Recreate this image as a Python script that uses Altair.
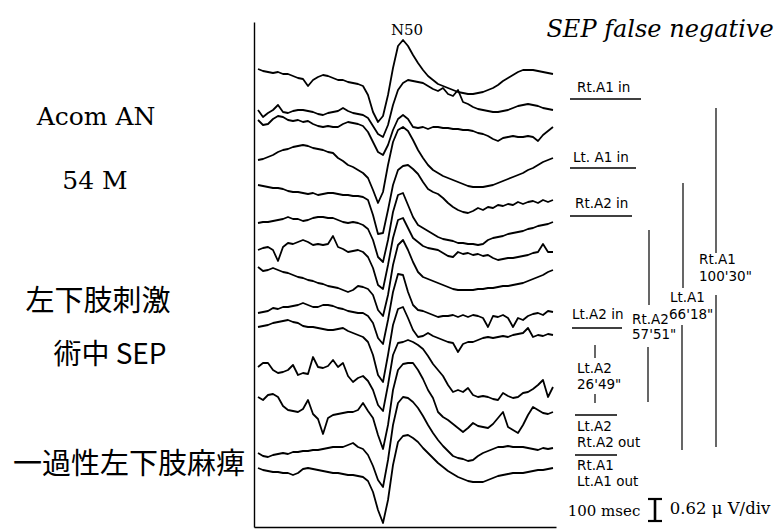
import altair as alt
import pandas as pd

# ---- data -----------------------------------------------------------------
# sampling times (ms from sweep start) and vertical display position of each trace
TIME_MS = [0, 5, 10, 15, 20, 25, 30, 35, 40, 45, 50, 55, 60, 65, 70, 75, 80, 85, 90, 95,
           100, 105, 110, 115, 120, 125, 130, 135, 140, 145, 150, 155, 160, 165, 170, 175,
           180, 185, 190, 195, 200, 205, 210, 215, 220, 225, 230, 235, 240, 245, 250, 255,
           260, 265, 270, 275, 280, 285, 290, 295]

TRACE_1 = [69, 71, 72, 73, 72, 74, 74, 76, 78, 79, 86, 80, 77, 75, 76, 78, 80, 80, 82, 83,
           84, 86, 95, 112, 122, 116, 95, 68, 46, 40, 46, 55, 63, 70, 76, 80, 84, 86, 88, 90,
           92, 93, 94, 94, 93, 92, 90, 88, 85, 81, 78, 75, 72, 70, 70, 70, 71, 72, 73, 74]
TRACE_2 = [110, 117, 113, 110, 105, 112, 113, 111, 110, 110, 111, 112, 114, 115, 113, 112, 111, 108, 111, 113,
           114, 115, 118, 126, 134, 137, 125, 105, 90, 83, 80, 81, 82, 83, 86, 89, 91, 88, 94, 96,
           90, 102, 104, 107, 109, 110, 111, 112, 112, 111, 110, 108, 106, 105, 104, 105, 106, 108, 109, 110]
TRACE_3 = [120, 125, 124, 119, 116, 117, 120, 121, 120, 122, 121, 124, 126, 127, 126, 127, 127, 124, 122, 123,
           124, 126, 132, 142, 152, 155, 145, 130, 119, 115, 119, 127, 128, 127, 129, 127, 127, 128, 128, 129,
           129, 130, 130, 131, 133, 134, 136, 139, 141, 138, 137, 136, 137, 137, 136, 137, 141, 135, 131, 127]
TRACE_4 = [160, 159, 157, 155, 152, 150, 149, 147, 146, 145, 146, 148, 149, 150, 152, 153, 158, 161, 165, 167,
           170, 173, 178, 190, 203, 192, 165, 142, 130, 127, 131, 140, 150, 158, 165, 170, 173, 176, 178, 180,
           182, 184, 186, 187, 187, 187, 186, 185, 183, 181, 179, 177, 175, 173, 170, 168, 165, 162, 160, 158]
TRACE_5 = [185, 186, 187, 188, 188, 189, 191, 192, 192, 193, 194, 193, 195, 194, 193, 193, 194, 195, 195, 196,
           196, 197, 200, 215, 234, 233, 210, 185, 170, 166, 165, 169, 174, 182, 189, 192, 194, 198, 203, 207,
           210, 212, 213, 211, 208, 210, 207, 208, 205, 206, 204, 205, 202, 204, 202, 201, 203, 200, 202, 200]
TRACE_6 = [223, 222, 222, 221, 220, 219, 217, 219, 219, 221, 220, 218, 217, 217, 218, 218, 220, 222, 223, 222,
           223, 225, 229, 240, 257, 262, 240, 212, 195, 193, 205, 217, 225, 228, 231, 234, 237, 239, 240, 241,
           243, 243, 244, 244, 245, 244, 240, 238, 237, 236, 234, 233, 232, 231, 229, 228, 226, 225, 224, 222]
TRACE_7 = [250, 248, 247, 250, 261, 247, 243, 244, 242, 240, 242, 245, 244, 245, 244, 236, 247, 249, 252, 251,
           250, 252, 257, 268, 285, 289, 265, 238, 220, 218, 228, 238, 242, 246, 248, 249, 250, 253, 256, 257,
           252, 254, 253, 255, 254, 256, 255, 258, 260, 259, 258, 258, 257, 256, 255, 253, 252, 244, 252, 252]
TRACE_8 = [267, 271, 270, 268, 270, 272, 273, 275, 277, 278, 280, 281, 283, 284, 286, 287, 288, 290, 292, 290,
           286, 287, 289, 295, 310, 316, 295, 265, 245, 240, 250, 262, 272, 277, 279, 281, 283, 285, 287, 289,
           290, 290, 290, 290, 289, 289, 288, 288, 287, 286, 286, 285, 284, 283, 281, 279, 277, 275, 272, 270]
TRACE_9 = [313, 312, 311, 308, 309, 307, 307, 306, 305, 303, 305, 307, 307, 305, 305, 306, 308, 309, 311, 312,
           313, 313, 316, 323, 338, 344, 320, 292, 274, 275, 292, 305, 310, 311, 313, 315, 317, 316, 316, 315,
           317, 315, 317, 315, 316, 318, 327, 316, 317, 315, 318, 327, 318, 320, 316, 314, 313, 315, 311, 312]
TRACE_10 = [327, 326, 325, 323, 322, 321, 320, 322, 323, 326, 327, 327, 328, 329, 330, 330, 329, 328, 331, 333,
            335, 337, 342, 355, 375, 382, 355, 325, 309, 307, 318, 330, 337, 336, 333, 336, 338, 340, 342, 343,
            352, 344, 342, 342, 340, 338, 337, 338, 337, 336, 337, 335, 334, 333, 328, 337, 335, 336, 334, 335]
TRACE_11 = [367, 363, 363, 370, 373, 372, 370, 365, 375, 373, 374, 357, 367, 368, 366, 360, 367, 363, 376, 382,
            378, 376, 381, 390, 405, 411, 385, 355, 343, 342, 340, 342, 345, 349, 356, 364, 370, 376, 385, 392,
            390, 392, 388, 395, 397, 396, 397, 399, 400, 393, 396, 398, 397, 393, 392, 389, 385, 380, 397, 387]
TRACE_12 = [397, 400, 395, 394, 397, 406, 410, 411, 412, 409, 400, 414, 419, 434, 418, 415, 414, 413, 412, 412,
            410, 403, 411, 418, 435, 449, 425, 390, 370, 364, 363, 363, 370, 379, 390, 398, 412, 417, 420, 424,
            428, 432, 428, 423, 426, 427, 428, 424, 418, 412, 427, 430, 433, 425, 415, 407, 410, 413, 414, 412]
TRACE_13 = [453, 456, 457, 455, 454, 453, 454, 452, 452, 451, 451, 450, 450, 449, 448, 447, 447, 447, 445, 443,
            447, 449, 455, 466, 480, 487, 460, 425, 403, 397, 398, 402, 408, 416, 425, 433, 440, 446, 451, 456,
            458, 459, 461, 460, 456, 453, 451, 449, 447, 447, 446, 447, 447, 447, 448, 449, 450, 448, 449, 448]
TRACE_14 = [468, 470, 471, 472, 472, 473, 473, 475, 473, 469, 468, 469, 470, 471, 472, 473, 473, 474, 475, 475,
            476, 477, 481, 492, 510, 523, 500, 465, 442, 436, 435, 438, 442, 448, 453, 458, 463, 467, 471, 474,
            477, 479, 481, 482, 482, 482, 480, 478, 476, 475, 474, 473, 473, 473, 472, 471, 470, 470, 469, 468]

TRACES = [TRACE_1, TRACE_2, TRACE_3, TRACE_4, TRACE_5, TRACE_6, TRACE_7,
          TRACE_8, TRACE_9, TRACE_10, TRACE_11, TRACE_12, TRACE_13, TRACE_14]

LEFT_TEXT = ["Acom AN", "54 M", "左下肢刺激", "術中 SEP", "一過性左下肢麻痺"]
TITLE = "SEP false negative"
PEAK_LABEL = "N50"

rows = []
for i, vals in enumerate(TRACES, start=1):
    for t, v in zip(TIME_MS, vals):
        rows.append({"t": t, "v": v, "trace": i})
df = pd.DataFrame(rows)

# ---- layout ----------------------------------------------------------------
X0, Y0 = 254, 22          # plot-area origin on the page
W, H = 302, 505
one = alt.Data(values=[{}])

xs = alt.Scale(domain=[-4, 298])
ys = alt.Scale(domain=[22, 527], reverse=True)
noaxis = dict(ticks=False, labels=False, grid=False, title=None,
              domainColor="black", domainWidth=1.4)

traces = alt.Chart(df).mark_line(color="black", strokeWidth=1.8, strokeJoin="round").encode(
    x=alt.X("t:Q", scale=xs, axis=alt.Axis(**noaxis)),
    y=alt.Y("v:Q", scale=ys, axis=alt.Axis(**noaxis)),
    detail="trace:N",
)

SERIF = "DejaVu Serif"
SANS = "DejaVu Sans"
CJK = "Noto Sans CJK JP"


def txt(s, px, py, size, font, align="center", italic=False, weight="normal"):
    return alt.Chart(one).mark_text(
        text=s, fontSize=size, font=font, align=align, baseline="middle",
        fontStyle="italic" if italic else "normal", fontWeight=weight, color="black",
    ).encode(x=alt.value(px - X0), y=alt.value(py - Y0))


def vline(px, py1, py2, w=1.2):
    return alt.Chart(one).mark_rule(color="black", strokeWidth=w).encode(
        x=alt.value(px - X0), y=alt.value(py1 - Y0), y2=alt.value(py2 - Y0))


def hline(px1, px2, py, w=1.6):
    return alt.Chart(one).mark_rule(color="black", strokeWidth=w).encode(
        x=alt.value(px1 - X0), x2=alt.value(px2 - X0), y=alt.value(py - Y0))


layers = [traces]
# title and peak label
layers.append(txt(TITLE, 660, 30, 24, SERIF, italic=True))
layers.append(txt(PEAK_LABEL, 407, 30, 15, SERIF))
# left-hand annotation
layers.append(txt(LEFT_TEXT[0], 96, 117, 25, SERIF))
layers.append(txt(LEFT_TEXT[1], 95, 181, 25, SERIF))
layers.append(txt(LEFT_TEXT[2], 98, 302, 29, CJK))
layers.append(txt(LEFT_TEXT[3], 110, 356, 28, CJK))
layers.append(txt(LEFT_TEXT[4], 129, 465, 29, CJK))

# right-hand clamp annotations
R = 13.5
layers += [
    txt("Rt.A1 in", 577, 88, R, SANS, align="left"), hline(570, 641, 99),
    txt("Lt. A1 in", 573, 158, R, SANS, align="left"), hline(570, 636, 168),
    txt("Rt.A2 in", 575, 204, R, SANS, align="left"), hline(570, 632, 216),
    txt("Lt.A2 in", 572, 315, R, SANS, align="left"), hline(572, 622, 328),
    vline(716, 108, 253), vline(716, 295, 447),
    txt("Rt.A1", 699, 260, R, SANS, align="left"),
    txt("100'30\"", 699, 277, R, SANS, align="left"),
    vline(683, 183, 288), vline(682, 325, 450),
    txt("Lt.A1", 670, 298, R, SANS, align="left"),
    txt("66'18\"", 669, 315, R, SANS, align="left"),
    vline(649, 230, 305), vline(648, 347, 402),
    txt("Rt.A2", 632, 320, R, SANS, align="left"),
    txt("57'51\"", 632, 335, R, SANS, align="left"),
    vline(595, 345, 358), vline(595, 394, 403),
    txt("Lt.A2", 577, 369, R, SANS, align="left"),
    txt("26'49\"", 577, 385, R, SANS, align="left"),
    hline(575, 617, 415, 1.3),
    txt("Lt.A2", 577, 427, R, SANS, align="left"),
    txt("Rt.A2 out", 577, 443, R, SANS, align="left"),
    hline(575, 617, 455, 1.3),
    txt("Rt.A1", 577, 466, R, SANS, align="left"),
    txt("Lt.A1 out", 577, 482, R, SANS, align="left"),
]

# calibration
layers += [
    txt("100 msec", 604, 511, 15, SERIF),
    vline(655, 499, 521, 2.6), hline(648, 662, 499, 2.2), hline(648, 662, 521, 2.2),
    txt("0.62 μ V/div", 720, 509, 16.5, SERIF),
]

chart = alt.layer(*layers).properties(
    width=W, height=H,
    padding={"left": X0, "top": Y0, "right": 780 - X0 - W, "bottom": 532 - Y0 - H},
    autosize=alt.AutoSizeParams(type="none"),
    background="white",
).configure_view(stroke=None)

chart.save("out.html", embed_options={"renderer": "svg", "actions": False})
